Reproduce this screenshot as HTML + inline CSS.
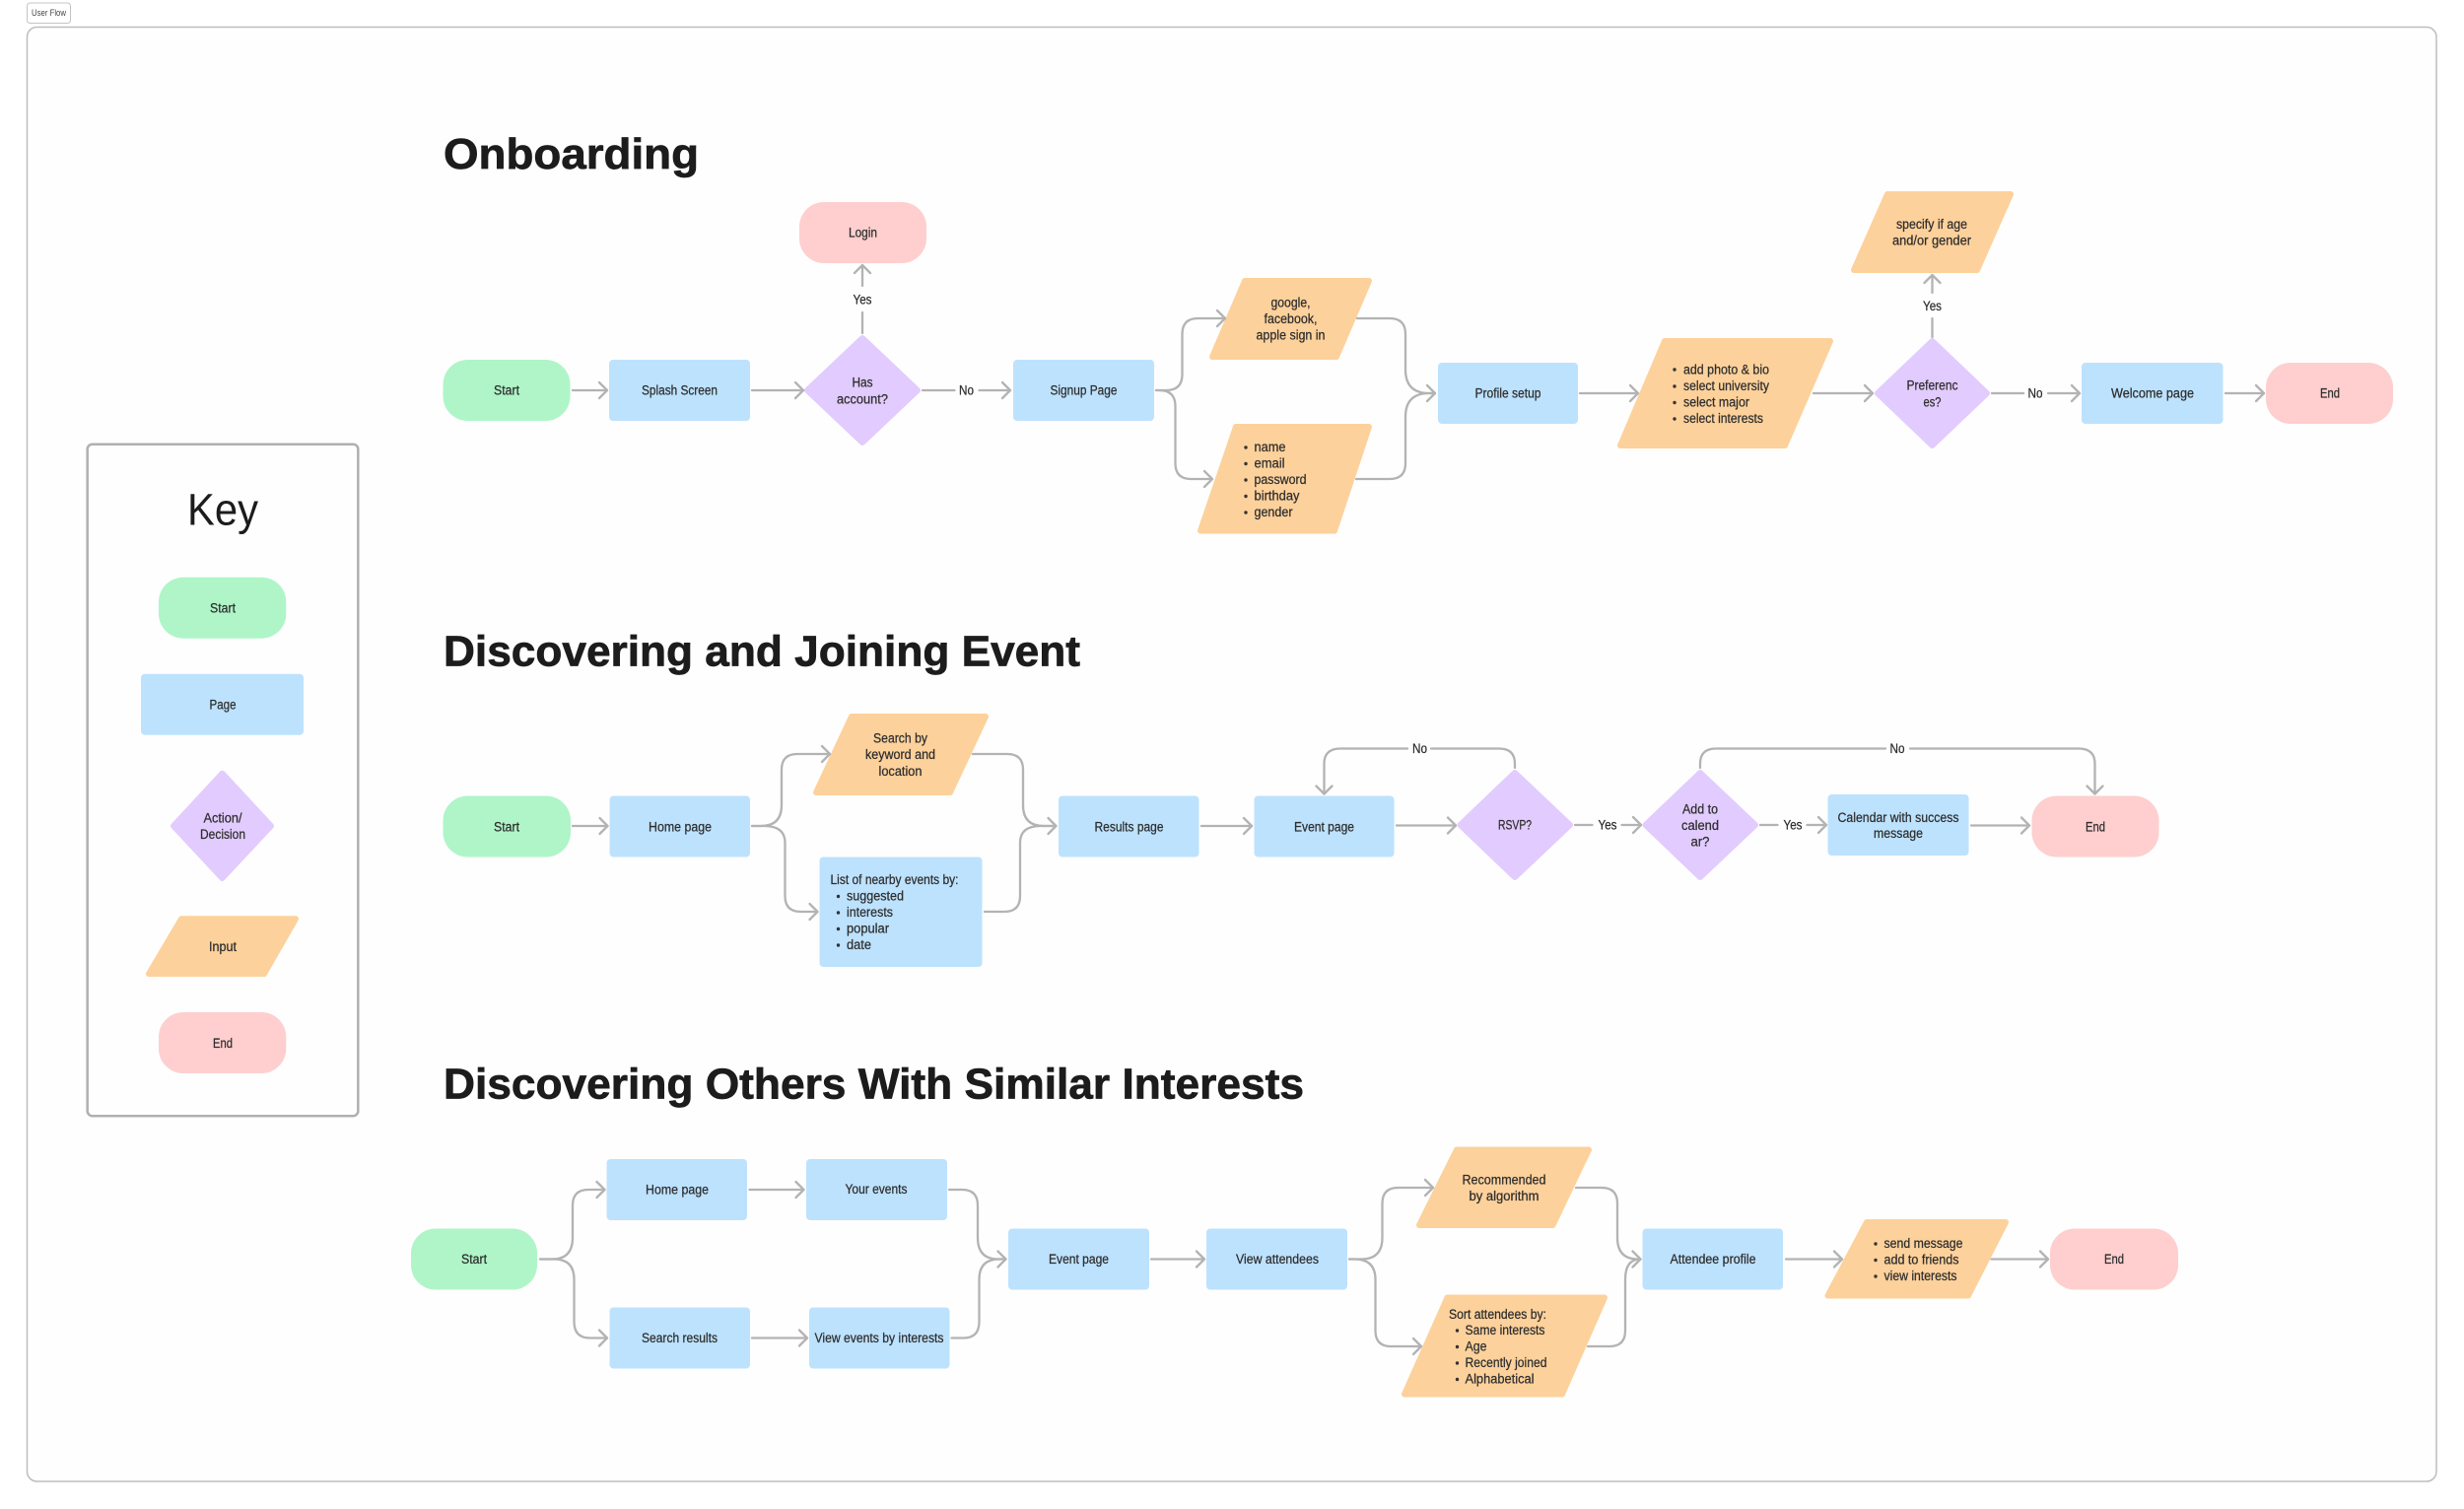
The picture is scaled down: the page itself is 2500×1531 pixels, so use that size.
<!DOCTYPE html>
<html><head><meta charset="utf-8"><title>User Flow</title>
<style>
html,body{margin:0;padding:0;background:#fff}
svg{display:block}
text{font-family:"Liberation Sans",sans-serif;font-size:13.5px;fill:#2e2e2e;stroke:#2e2e2e;stroke-width:.25}
.t{text-anchor:middle}
.h{font-weight:bold;font-size:44px;fill:#1c1c1c;stroke:#1c1c1c;stroke-width:.7}
.c{fill:none;stroke:#b3b3b3;stroke-width:2.300;stroke-linecap:round;stroke-linejoin:round}
.a{marker-end:url(#ar)}
.g{fill:#aff5c8}.b{fill:#bde2fe}.p{fill:#fecfce}
.o{fill:#fdd19b;stroke:#fdd19b;stroke-width:6;stroke-linejoin:round}
.v{fill:#e2cbfe;stroke:#e2cbfe;stroke-width:6;stroke-linejoin:round}
.d{fill:#333}
</style></head><body>
<svg xmlns="http://www.w3.org/2000/svg" width="2500" height="1531" viewBox="0 0 2500 1531">
<defs><marker id="ar" markerUnits="userSpaceOnUse" markerWidth="24" markerHeight="24" refX="12" refY="12" orient="auto" viewBox="0 0 24 24"><path d="M4 4L12 12L4 20" fill="none" stroke="#b3b3b3" stroke-width="2.300" stroke-linecap="round" stroke-linejoin="round"/></marker></defs>
<rect width="2500" height="1531" fill="#fff"/>
<rect x="27.500" y="3" width="44" height="20.500" rx="3" fill="#fff" stroke="#c4c4c4" stroke-width="1"/>
<text x="49.500" y="16" class="t" style="font-size:9.500px;fill:#444;stroke:none" textLength="35" lengthAdjust="spacingAndGlyphs">User Flow</text>
<rect x="27.500" y="27.500" width="2444.500" height="1475.500" rx="10" fill="#fefefe" stroke="#bdbdbd" stroke-width="1.500"/>

<!-- Headings -->
<text x="450" y="171" class="h" textLength="259" lengthAdjust="spacingAndGlyphs">Onboarding</text>
<text x="450" y="675.500" class="h" textLength="646" lengthAdjust="spacingAndGlyphs">Discovering and Joining Event</text>
<text x="450" y="1114.500" class="h" textLength="873" lengthAdjust="spacingAndGlyphs">Discovering Others With Similar Interests</text>

<!-- Key -->
<rect x="88.700" y="450.700" width="274.600" height="681.500" rx="5" fill="#fefefe" stroke="#b0b0b0" stroke-width="2.500"/>
<text x="226" y="532.700" class="t" style="font-size:45px;fill:#1c1c1c;stroke:none" textLength="72" lengthAdjust="spacingAndGlyphs">Key</text>
<rect x="161" y="585.700" width="129.300" height="62" rx="25" class="g"/>
<text x="226" y="621.500" class="t" textLength="26" lengthAdjust="spacingAndGlyphs">Start</text>
<rect x="143" y="683.700" width="165" height="62" rx="4" class="b"/>
<text x="226" y="719.500" class="t" textLength="27" lengthAdjust="spacingAndGlyphs">Page</text>
<polygon points="225.500,784.700 275,838 225.500,891 176,838" class="v"/>
<text x="226" y="834.500" class="t" textLength="39" lengthAdjust="spacingAndGlyphs">Action/</text>
<text x="226" y="851" class="t" textLength="46" lengthAdjust="spacingAndGlyphs">Decision</text>
<polygon points="184,932.300 300,932.300 268,988 151,988" class="o"/>
<text x="226" y="965.200" class="t" textLength="28" lengthAdjust="spacingAndGlyphs">Input</text>
<rect x="161" y="1027" width="129.300" height="62" rx="25" class="p"/>
<text x="226" y="1062.800" class="t" textLength="20" lengthAdjust="spacingAndGlyphs">End</text>

<!-- Onboarding shapes -->
<rect x="449.500" y="365" width="129" height="62" rx="25" class="g"/>
<text x="514" y="400.500" class="t" textLength="26" lengthAdjust="spacingAndGlyphs">Start</text>
<rect x="618" y="365" width="143" height="62" rx="4" class="b"/>
<text x="689.500" y="400.500" class="t" textLength="77" lengthAdjust="spacingAndGlyphs">Splash Screen</text>
<polygon points="875,343 931,396 875,449 819,396" class="v"/>
<text x="875" y="392.500" class="t" textLength="21" lengthAdjust="spacingAndGlyphs">Has</text>
<text x="875" y="409.500" class="t" textLength="52" lengthAdjust="spacingAndGlyphs">account?</text>
<rect x="811" y="205" width="129" height="62" rx="25" class="p"/>
<text x="875.500" y="240.500" class="t" textLength="29" lengthAdjust="spacingAndGlyphs">Login</text>
<text x="875" y="308.500" class="t" textLength="19" lengthAdjust="spacingAndGlyphs">Yes</text>
<text x="980.500" y="400.500" class="t" textLength="15" lengthAdjust="spacingAndGlyphs">No</text>
<rect x="1028" y="365" width="143" height="62" rx="4" class="b"/>
<text x="1099.500" y="400.500" class="t" textLength="68" lengthAdjust="spacingAndGlyphs">Signup Page</text>
<polygon points="1263,285 1389,285 1356,362 1230,362" class="o"/>
<text x="1309.500" y="311.500" class="t" textLength="40" lengthAdjust="spacingAndGlyphs">google,</text>
<text x="1309.500" y="328" class="t" textLength="54" lengthAdjust="spacingAndGlyphs">facebook,</text>
<text x="1309.500" y="344.500" class="t" textLength="70" lengthAdjust="spacingAndGlyphs">apple sign in</text>
<polygon points="1254,433 1389,433 1354,538.500 1218,538.500" class="o"/>
<circle cx="1264" cy="454" r="1.700" class="d"/><text x="1272.500" y="458" textLength="32" lengthAdjust="spacingAndGlyphs">name</text>
<circle cx="1264" cy="470.500" r="1.700" class="d"/><text x="1272.500" y="474.500" textLength="31" lengthAdjust="spacingAndGlyphs">email</text>
<circle cx="1264" cy="487" r="1.700" class="d"/><text x="1272.500" y="491" textLength="53" lengthAdjust="spacingAndGlyphs">password</text>
<circle cx="1264" cy="503.500" r="1.700" class="d"/><text x="1272.500" y="507.500" textLength="46" lengthAdjust="spacingAndGlyphs">birthday</text>
<circle cx="1264" cy="520" r="1.700" class="d"/><text x="1272.500" y="524" textLength="39" lengthAdjust="spacingAndGlyphs">gender</text>
<rect x="1459" y="368" width="142" height="62" rx="4" class="b"/>
<text x="1530" y="403.500" class="t" textLength="67" lengthAdjust="spacingAndGlyphs">Profile setup</text>
<polygon points="1689,346 1857,346 1811,452 1644,452" class="o"/>
<circle cx="1699" cy="375" r="1.700" class="d"/><text x="1708" y="379.500" textLength="87" lengthAdjust="spacingAndGlyphs">add photo &amp; bio</text>
<circle cx="1699" cy="392" r="1.700" class="d"/><text x="1708" y="396" textLength="87" lengthAdjust="spacingAndGlyphs">select university</text>
<circle cx="1699" cy="408.500" r="1.700" class="d"/><text x="1708" y="412.500" textLength="67" lengthAdjust="spacingAndGlyphs">select major</text>
<circle cx="1699" cy="425" r="1.700" class="d"/><text x="1708" y="429" textLength="81" lengthAdjust="spacingAndGlyphs">select interests</text>
<polygon points="1960.500,346 2016,399 1960.500,452 1905,399" class="v"/>
<text x="1960.500" y="395.500" class="t" textLength="52" lengthAdjust="spacingAndGlyphs">Preferenc</text>
<text x="1960.500" y="412.500" class="t" textLength="18" lengthAdjust="spacingAndGlyphs">es?</text>
<text x="1960.500" y="315" class="t" textLength="19" lengthAdjust="spacingAndGlyphs">Yes</text>
<polygon points="1915,197 2040,197 2006,274 1881,274" class="o"/>
<text x="1960" y="232" class="t" textLength="72" lengthAdjust="spacingAndGlyphs">specify if age</text>
<text x="1960" y="248.500" class="t" textLength="80" lengthAdjust="spacingAndGlyphs">and/or gender</text>
<text x="2065" y="403.500" class="t" textLength="15" lengthAdjust="spacingAndGlyphs">No</text>
<rect x="2112" y="368" width="143.500" height="62" rx="4" class="b"/>
<text x="2184" y="403.500" class="t" textLength="84" lengthAdjust="spacingAndGlyphs">Welcome page</text>
<rect x="2299" y="368" width="129" height="62" rx="25" class="p"/>
<text x="2364" y="403.500" class="t" textLength="20" lengthAdjust="spacingAndGlyphs">End</text>

<!-- Onboarding connectors -->
<path class="c a" d="M581 396H616"/>
<path class="c a" d="M763 396H815"/>
<path class="c" d="M875 338V317"/>
<path class="c a" d="M875 290V269"/>
<path class="c" d="M936 396H968.500"/>
<path class="c a" d="M993.500 396H1025"/>
<path class="c a" d="M1173 396H1183Q1199.500 396 1199.500 380V339Q1199.500 323 1215.500 323H1243"/>
<path class="c a" d="M1173 396H1176Q1192.500 396 1192.500 412V470Q1192.500 486 1208.500 486H1230"/>
<path class="c" d="M1377 323H1410Q1426 323 1426 339V375Q1426 399 1450 399H1456"/>
<path class="c a" d="M1376 486H1410Q1426 486 1426 470V423Q1426 399 1450 399H1456"/>
<path class="c a" d="M1603 399H1662"/>
<path class="c a" d="M1840 399H1900"/>
<path class="c" d="M1960.500 342V323"/>
<path class="c a" d="M1960.500 297V279"/>
<path class="c" d="M2021 399H2053"/>
<path class="c a" d="M2078 399H2110"/>
<path class="c a" d="M2258 399H2297"/>

<!-- Discovering and Joining -->
<rect x="449.500" y="807.500" width="129.500" height="62" rx="25" class="g"/>
<text x="514" y="843.500" class="t" textLength="26" lengthAdjust="spacingAndGlyphs">Start</text>
<rect x="618.500" y="807.500" width="142.500" height="62" rx="4" class="b"/>
<text x="690" y="843.500" class="t" textLength="64" lengthAdjust="spacingAndGlyphs">Home page</text>
<polygon points="864,727 1000,727 964,804 828,804" class="o"/>
<text x="913.500" y="753.500" class="t" textLength="55" lengthAdjust="spacingAndGlyphs">Search by</text>
<text x="913.500" y="770" class="t" textLength="71" lengthAdjust="spacingAndGlyphs">keyword and</text>
<text x="913.500" y="787" class="t" textLength="44" lengthAdjust="spacingAndGlyphs">location</text>
<rect x="831.500" y="869.500" width="165" height="111.500" rx="4" class="b"/>
<text x="842.500" y="897" textLength="130" lengthAdjust="spacingAndGlyphs">List of nearby events by:</text>
<circle cx="850.500" cy="909.500" r="1.700" class="d"/><text x="859" y="913.500" textLength="58" lengthAdjust="spacingAndGlyphs">suggested</text>
<circle cx="850.500" cy="926" r="1.700" class="d"/><text x="859" y="930" textLength="47" lengthAdjust="spacingAndGlyphs">interests</text>
<circle cx="850.500" cy="942.500" r="1.700" class="d"/><text x="859" y="946.500" textLength="43" lengthAdjust="spacingAndGlyphs">popular</text>
<circle cx="850.500" cy="959" r="1.700" class="d"/><text x="859" y="963" textLength="25" lengthAdjust="spacingAndGlyphs">date</text>
<rect x="1074" y="807.500" width="142.500" height="62" rx="4" class="b"/>
<text x="1145.500" y="843.500" class="t" textLength="70" lengthAdjust="spacingAndGlyphs">Results page</text>
<rect x="1272.500" y="807.500" width="142" height="62" rx="4" class="b"/>
<text x="1343.500" y="843.500" class="t" textLength="61" lengthAdjust="spacingAndGlyphs">Event page</text>
<polygon points="1537,784 1593,837 1537,890 1481.500,837" class="v"/>
<text x="1537" y="841.500" class="t" textLength="34" lengthAdjust="spacingAndGlyphs">RSVP?</text>
<text x="1631" y="841.500" class="t" textLength="19" lengthAdjust="spacingAndGlyphs">Yes</text>
<polygon points="1725,784 1781,837 1725,890 1669.500,837" class="v"/>
<text x="1725" y="825.500" class="t" textLength="36" lengthAdjust="spacingAndGlyphs">Add to</text>
<text x="1725" y="842" class="t" textLength="38" lengthAdjust="spacingAndGlyphs">calend</text>
<text x="1725" y="858.500" class="t" textLength="19" lengthAdjust="spacingAndGlyphs">ar?</text>
<text x="1819" y="841.500" class="t" textLength="19" lengthAdjust="spacingAndGlyphs">Yes</text>
<rect x="1854.500" y="806" width="143" height="62" rx="4" class="b"/>
<text x="1926" y="833.800" class="t" textLength="123" lengthAdjust="spacingAndGlyphs">Calendar with success</text>
<text x="1926" y="850.200" class="t" textLength="50" lengthAdjust="spacingAndGlyphs">message</text>
<rect x="2061.500" y="807.500" width="129" height="62" rx="25" class="p"/>
<text x="2126" y="843.500" class="t" textLength="20" lengthAdjust="spacingAndGlyphs">End</text>
<text x="1440.500" y="764" class="t" textLength="15" lengthAdjust="spacingAndGlyphs">No</text>
<text x="1925" y="764" class="t" textLength="15" lengthAdjust="spacingAndGlyphs">No</text>

<path class="c a" d="M581 838H616.500"/>
<path class="c a" d="M763 838H772Q793 838 793 817V781Q793 765 809 765H842"/>
<path class="c a" d="M763 838H775Q796.500 838 796.500 855V909Q796.500 925 812.500 925H829.500"/>
<path class="c" d="M987 765H1022Q1038 765 1038 781V817Q1038 838 1059 838H1071"/>
<path class="c a" d="M999 925H1019Q1035 925 1035 909V855Q1035 838 1056 838H1071.500"/>
<path class="c a" d="M1219 838H1270"/>
<path class="c a" d="M1417 837.500H1477"/>
<path class="c" d="M1598 837H1615.500"/>
<path class="c a" d="M1645.500 837H1665"/>
<path class="c" d="M1786 837H1803.500"/>
<path class="c a" d="M1833.500 837H1853"/>
<path class="c a" d="M2000 837.500H2059"/>
<path class="c" d="M1537 779V775Q1537 759.500 1521 759.500H1452"/>
<path class="c a" d="M1428 759.500H1360Q1343.500 759.500 1343.500 775V805.500"/>
<path class="c" d="M1725 779V775Q1725 759.500 1741 759.500H1913"/>
<path class="c a" d="M1938 759.500H2109Q2125.500 759.500 2125.500 775V805.500"/>

<!-- Discovering Others -->
<rect x="417" y="1246.500" width="128" height="62" rx="25" class="g"/>
<text x="481" y="1282" class="t" textLength="26" lengthAdjust="spacingAndGlyphs">Start</text>
<rect x="615.500" y="1176" width="142.500" height="62" rx="4" class="b"/>
<text x="687" y="1211.500" class="t" textLength="64" lengthAdjust="spacingAndGlyphs">Home page</text>
<rect x="818" y="1176" width="143" height="62" rx="4" class="b"/>
<text x="889" y="1211" class="t" textLength="63" lengthAdjust="spacingAndGlyphs">Your events</text>
<rect x="618.500" y="1326.500" width="142.500" height="62" rx="4" class="b"/>
<text x="689.500" y="1362" class="t" textLength="77" lengthAdjust="spacingAndGlyphs">Search results</text>
<rect x="821" y="1326.500" width="142.500" height="62" rx="4" class="b"/>
<text x="892" y="1362" class="t" textLength="131" lengthAdjust="spacingAndGlyphs">View events by interests</text>
<rect x="1023" y="1246.500" width="143" height="62" rx="4" class="b"/>
<text x="1094.500" y="1282" class="t" textLength="61" lengthAdjust="spacingAndGlyphs">Event page</text>
<rect x="1224" y="1246.500" width="143" height="62" rx="4" class="b"/>
<text x="1296" y="1282" class="t" textLength="84" lengthAdjust="spacingAndGlyphs">View attendees</text>
<polygon points="1478,1166.500 1612,1166.500 1575.500,1243 1440,1243" class="o"/>
<text x="1526" y="1201.500" class="t" textLength="85" lengthAdjust="spacingAndGlyphs">Recommended</text>
<text x="1526" y="1218" class="t" textLength="71" lengthAdjust="spacingAndGlyphs">by algorithm</text>
<polygon points="1468.500,1316.500 1628,1316.500 1585,1414.500 1425,1414.500" class="o"/>
<text x="1470" y="1338" textLength="99" lengthAdjust="spacingAndGlyphs">Sort attendees by:</text>
<circle cx="1478.500" cy="1350" r="1.700" class="d"/><text x="1486.500" y="1354" textLength="81" lengthAdjust="spacingAndGlyphs">Same interests</text>
<circle cx="1478.500" cy="1366.500" r="1.700" class="d"/><text x="1486.500" y="1370.500" textLength="22" lengthAdjust="spacingAndGlyphs">Age</text>
<circle cx="1478.500" cy="1383" r="1.700" class="d"/><text x="1486.500" y="1387" textLength="83" lengthAdjust="spacingAndGlyphs">Recently joined</text>
<circle cx="1478.500" cy="1399.500" r="1.700" class="d"/><text x="1486.500" y="1403.500" textLength="70" lengthAdjust="spacingAndGlyphs">Alphabetical</text>
<rect x="1666.500" y="1246.500" width="142.500" height="62" rx="4" class="b"/>
<text x="1738" y="1282" class="t" textLength="87" lengthAdjust="spacingAndGlyphs">Attendee profile</text>
<polygon points="1894,1240 2035,1240 1997,1314.500 1854.500,1314.500" class="o"/>
<circle cx="1903" cy="1262" r="1.700" class="d"/><text x="1911.500" y="1266" textLength="80" lengthAdjust="spacingAndGlyphs">send message</text>
<circle cx="1903" cy="1278.500" r="1.700" class="d"/><text x="1911.500" y="1282.500" textLength="76" lengthAdjust="spacingAndGlyphs">add to friends</text>
<circle cx="1903" cy="1295" r="1.700" class="d"/><text x="1911.500" y="1299" textLength="74" lengthAdjust="spacingAndGlyphs">view interests</text>
<rect x="2080" y="1246.500" width="130" height="62" rx="25" class="p"/>
<text x="2145" y="1282" class="t" textLength="20" lengthAdjust="spacingAndGlyphs">End</text>

<path class="c a" d="M548 1277.500H560Q581 1277.500 581 1256V1223Q581 1207 597 1207H613.500"/>
<path class="c a" d="M548 1277.500H562Q582.500 1277.500 582.500 1298V1341Q582.500 1357.500 598.500 1357.500H616"/>
<path class="c a" d="M760.500 1207H815.500"/>
<path class="c a" d="M763 1357.500H819"/>
<path class="c" d="M963 1207H976Q992 1207 992 1223V1256Q992 1277.500 1013 1277.500H1020.500"/>
<path class="c a" d="M965.500 1357.500H977.500Q993.500 1357.500 993.500 1341V1298Q993.500 1277.500 1014 1277.500H1020.500"/>
<path class="c a" d="M1168 1277.500H1222"/>
<path class="c a" d="M1369 1277.500H1381Q1402.500 1277.500 1402.500 1256V1221Q1402.500 1205 1418.500 1205H1454"/>
<path class="c a" d="M1369 1277.500H1374Q1395.500 1277.500 1395.500 1298V1350Q1395.500 1366 1411.500 1366H1442"/>
<path class="c" d="M1599 1205H1625Q1641 1205 1641 1221V1256Q1641 1277.500 1662 1277.500H1664.500"/>
<path class="c a" d="M1611 1366H1633Q1649 1366 1649 1350V1298Q1649 1277.500 1664.500 1277.500"/>
<path class="c a" d="M1812 1277.500H1869"/>
<path class="c a" d="M2020.500 1277.500H2078"/>
</svg>
</body></html>
